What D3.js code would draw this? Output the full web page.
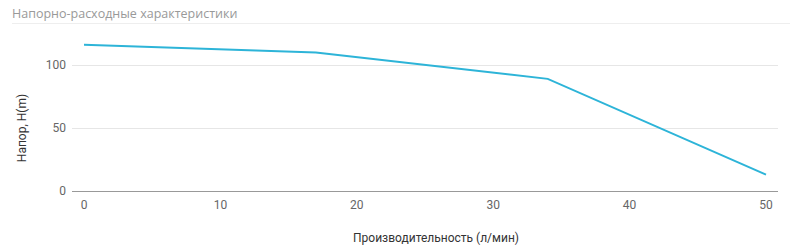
<!DOCTYPE html>
<html>
<head>
<meta charset="utf-8">
<script src="https://cdn.jsdelivr.net/npm/d3@7"></script>
<style>
  body { margin: 0; background: #fff; }
  svg { display: block; }
</style>
</head>
<body>
<div id="chart"></div>
<script>
// flow (л/мин) vs head (m)
const flow = [0, 17, 34, 50];
const head = [116, 110, 89, 13];
const xTicks = [0, 10, 20, 30, 40, 50];
const yTicks = [0, 50, 100];

const W = 805, H = 252;
const margin = { left: 84, right: 39, top: 65, bottom: 61 };

const svg = d3.select('#chart')
  .append('svg')
  .attr('width', W)
  .attr('height', H);

// title + thin separator under it
svg.append('text')
  .attr('x', 12)
  .attr('y', 18)
  .attr('fill', '#999')
  .attr('font-family', 'Open Sans')
  .attr('font-size', 12.5)
  .text('Напорно-расходные характеристики');

svg.append('line')
  .attr('x1', 12).attr('x2', 790)
  .attr('y1', 23.5).attr('y2', 23.5)
  .attr('stroke', '#eee');

const x = d3.scaleLinear().domain([0, 50]).range([84, 766]);
const y = d3.scaleLinear().domain([0, 100]).range([191, 65]);

// grid lines
svg.append('g')
  .selectAll('line')
  .data(yTicks.filter(d => d !== 0))
  .enter()
  .append('line')
  .attr('x1', 72).attr('x2', 778)
  .attr('y1', d => Math.round(y(d)) + 0.5)
  .attr('y2', d => Math.round(y(d)) + 0.5)
  .attr('stroke', '#e6e6e6');

// baseline
svg.append('line')
  .attr('x1', 72).attr('x2', 778)
  .attr('y1', y(0) + 0.5).attr('y2', y(0) + 0.5)
  .attr('stroke', '#999');

// y tick labels
svg.append('g')
  .selectAll('text')
  .data(yTicks)
  .enter()
  .append('text')
  .attr('x', 66)
  .attr('y', d => y(d) + 4)
  .attr('text-anchor', 'end')
  .attr('fill', '#666')
  .attr('font-family', 'Roboto')
  .attr('font-size', 12)
  .text(d => d);

// x tick labels
svg.append('g')
  .selectAll('text')
  .data(xTicks)
  .enter()
  .append('text')
  .attr('x', d => x(d))
  .attr('y', 209)
  .attr('text-anchor', 'middle')
  .attr('fill', '#666')
  .attr('font-family', 'Roboto')
  .attr('font-size', 12)
  .text(d => d);

// axis titles
svg.append('text')
  .attr('transform', 'translate(26,128) rotate(-90)')
  .attr('text-anchor', 'middle')
  .attr('fill', '#333')
  .attr('font-family', 'Roboto')
  .attr('font-size', 12)
  .text('Напор, H(m)');

svg.append('text')
  .attr('x', 436)
  .attr('y', 242)
  .attr('text-anchor', 'middle')
  .attr('fill', '#333')
  .attr('font-family', 'Roboto')
  .attr('font-size', 12)
  .text('Производительность (л/мин)');

const pts = flow.map((f, i) => [f, head[i]]);
const line = d3.line().x(d => x(d[0])).y(d => y(d[1]));

svg.append('path')
  .datum(pts)
  .attr('d', line)
  .attr('fill', 'none')
  .attr('stroke', '#2db4d8')
  .attr('stroke-width', 2);
</script>
</body>
</html>
